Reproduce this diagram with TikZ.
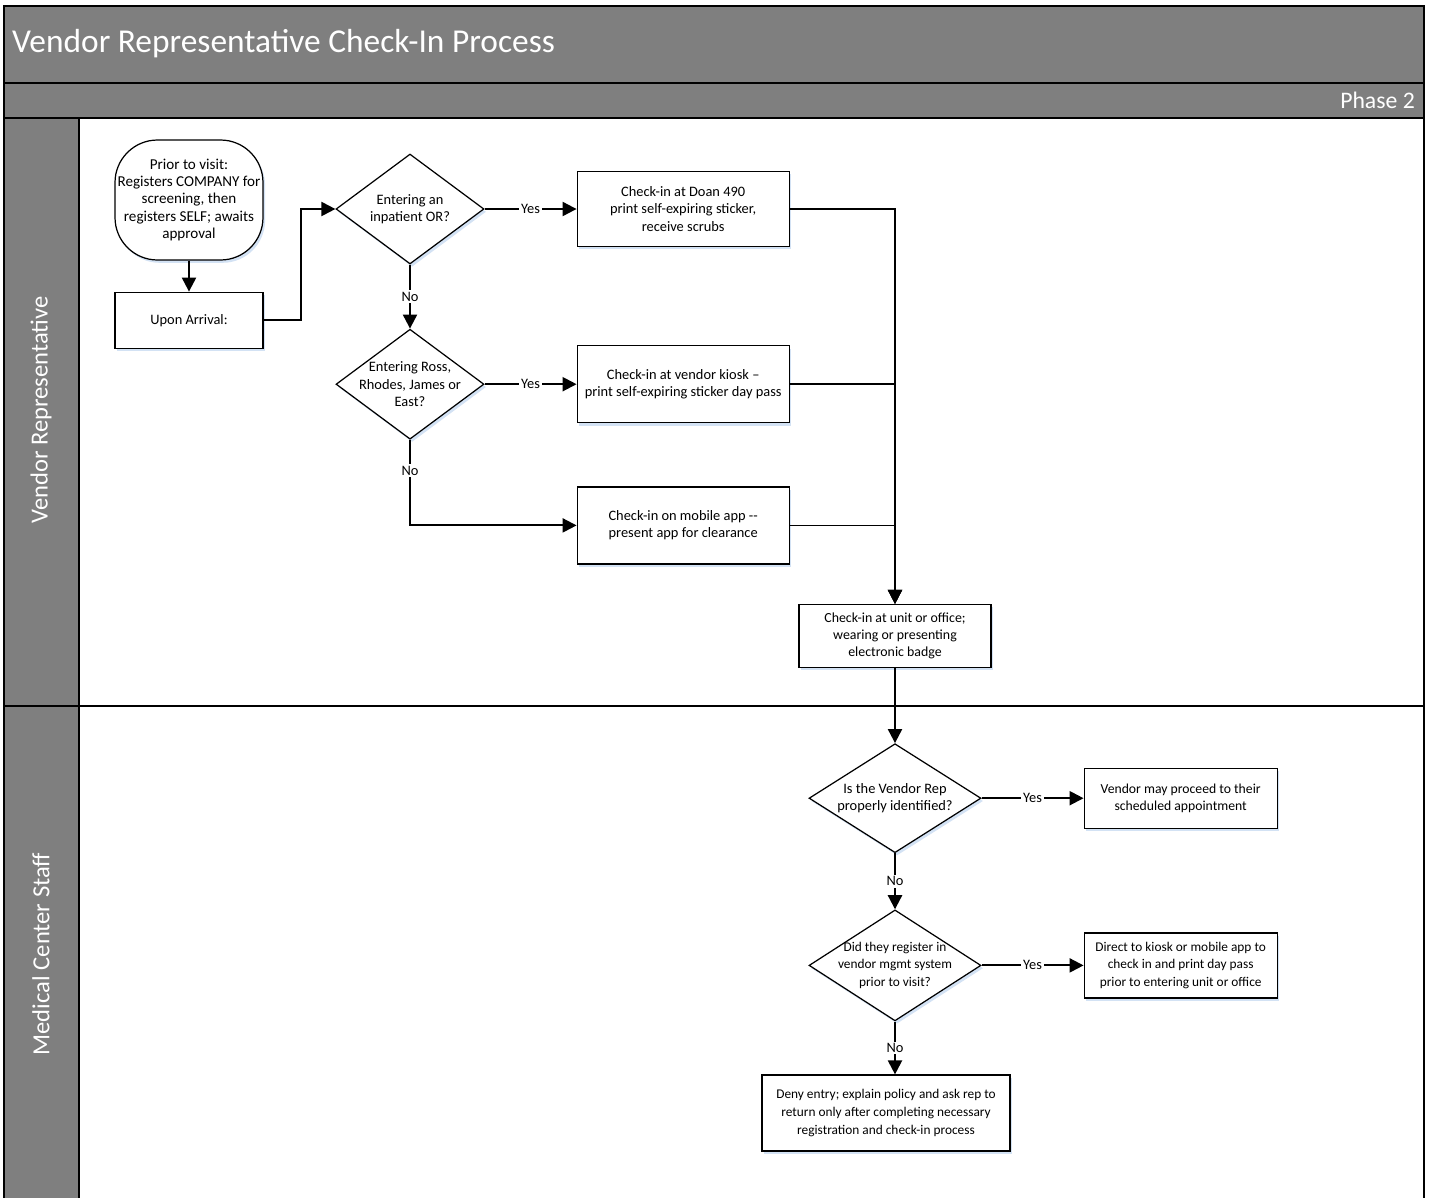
\documentclass[tikz,border=0pt]{standalone}
\usepackage{fontspec}
\setmainfont{Carlito}
\usetikzlibrary{positioning,shapes.geometric,arrows.meta,shadows}
\definecolor{lanegray}{HTML}{7F7F7F}
\definecolor{glow}{HTML}{D3E2F4}

\begin{document}
\begin{tikzpicture}[
  x=0.02cm, y=-0.02cm,
  font=\fontsize{8.2}{9.8}\selectfont,
  node distance=1.84cm,
  lane/.style={draw=black, line width=0.8pt, fill=lanegray},
  lanetitle/.style={text=white, rotate=90, font=\fontsize{14}{16}\selectfont},
  glowshadow/.style={drop shadow={fill=glow, opacity=1, shadow xshift=1.2pt, shadow yshift=-1.6pt}},
  process/.style={draw, line width=0.7pt, fill=white, align=center, glowshadow, inner xsep=1pt},
  terminal/.style={process, rounded corners=0.85cm, inner sep=0pt, minimum width=2.96cm, minimum height=2.4cm},
  decision/.style={diamond, draw, line width=0.7pt, fill=white, align=center, glowshadow, inner sep=-5pt, shape aspect=1.4},
  small/.style={font=\fontsize{7.6}{10}\selectfont},
  flow/.style={line width=1.2pt, -{Triangle[length=8pt,width=8pt]}},
  merge/.style={line width=1pt, -{Triangle[length=8pt,width=8pt]}},
  answer/.style={fill=white, inner sep=1pt, font=\fontsize{8.2}{9.8}\selectfont}
]
  \useasboundingbox (0,0) rectangle (1430,1197);
  \clip (0,0) rectangle (1430,1197);

  % pool header and lanes
  \draw[lane] (4,6) rectangle (1424,83);
  \draw[lane] (4,83) rectangle (1424,118);
  \node (title) [anchor=west, text=white, font=\fontsize{19}{22}\selectfont] at (6,44) {Vendor Representative Check-In Process};
  \node (phase) [anchor=east, text=white, font=\fontsize{13.5}{16}\selectfont] at (1421,100) {Phase 2};

  \draw[line width=0.8pt, fill=white] (79,118) rectangle (1424,706);
  \draw[line width=0.8pt, fill=white] (79,706) rectangle (1424,1220);
  \draw[lane] (4,118) rectangle (79,706);
  \draw[lane] (4,706) rectangle (79,1220);
  \node (vendorlane) [lanetitle] at (41,410) {Vendor Representative};
  \node (stafflane) [lanetitle] at (41,954) {Medical Center Staff};

  % vendor representative
  \node (start) [terminal, font=\fontsize{8.6}{9.9}\selectfont] at (189,200) {Prior to visit:\\Registers COMPANY for\\screening, then\\registers SELF; awaits\\approval};
  \node (arrive) [process, below=0.62cm of start, minimum width=2.96cm, minimum height=1.12cm] {Upon Arrival:};

  \node (inpatient) [decision, minimum width=2.96cm, minimum height=2.2cm] at (410,209) {Entering an\\inpatient OR?};
  \node (building) [decision, below=1.28cm of inpatient, minimum width=2.96cm, minimum height=2.2cm] {Entering Ross,\\Rhodes, James or\\East?};

  \node (doan) [process, right=of inpatient, minimum width=4.24cm, minimum height=1.5cm] {Check-in at Doan 490\\print self-expiring sticker,\\receive scrubs};
  \node (kiosk) [process, right=of building, minimum width=4.24cm, minimum height=1.54cm] {Check-in at vendor kiosk –\\print self-expiring sticker day pass};
  \node (mobile) [process, below=1.26cm of kiosk, minimum width=4.24cm, minimum height=1.54cm] {Check-in on mobile app -{}-\\present app for clearance};

  \node (badge) [process, font=\fontsize{7.9}{9.6}\selectfont, minimum width=3.84cm, minimum height=1.26cm] at (895,636) {Check-in at unit or office;\\wearing or presenting\\electronic badge};

  % medical center staff
  \node (identified) [decision, below=1.5cm of badge, minimum width=3.44cm, minimum height=2.18cm, shape aspect=1.58] {Is the Vendor Rep\\properly identified?};
  \node (proceed) [process, font=\fontsize{7.8}{9.6}\selectfont, right=2.04cm of identified, minimum width=3.86cm, minimum height=1.2cm] {Vendor may proceed to their\\scheduled appointment};

  \node (registered) [decision, small, below=1.12cm of identified, minimum width=3.44cm, minimum height=2.22cm, shape aspect=1.58] {Did they register in\\vendor mgmt system\\prior to visit?};
  \node (direct) [process, small, right=2.04cm of registered, minimum width=3.86cm, minimum height=1.3cm] {Direct to kiosk or mobile app to\\check in and print day pass\\prior to entering unit or office};

  \node (deny) [process, small, minimum width=4.96cm, minimum height=1.52cm] at (886,1113) {Deny entry; explain policy and ask rep to\\return only after completing necessary\\registration and check-in process};

  % connectors
  \draw[flow] (start) -- (arrive);
  \draw[flow] (arrive.east) -- ++(37,0) |- (inpatient.west);
  \draw[flow] (inpatient) -- node[answer] {Yes} (doan);
  \draw[flow] (inpatient) -- node[answer] {No} (building);
  \draw[flow] (building) -- node[answer] {Yes} (kiosk);
  \draw[flow] (building.south) |- node[answer, pos=0.18] {No} (mobile.west);

  \draw[merge] (doan.east) -| (badge.north);
  \draw[merge] (kiosk.east) -| (badge.north);
  \draw[merge] (mobile.east) -| (badge.north);

  \draw[flow] (badge) -- (identified);
  \draw[flow] (identified) -- node[answer] {Yes} (proceed);
  \draw[flow] (identified) -- node[answer] {No} (registered);
  \draw[flow] (registered) -- node[answer] {Yes} (direct);
  \draw[flow] (registered.south) -- node[answer] {No} (registered.south |- deny.north);

\end{tikzpicture}
\end{document}
